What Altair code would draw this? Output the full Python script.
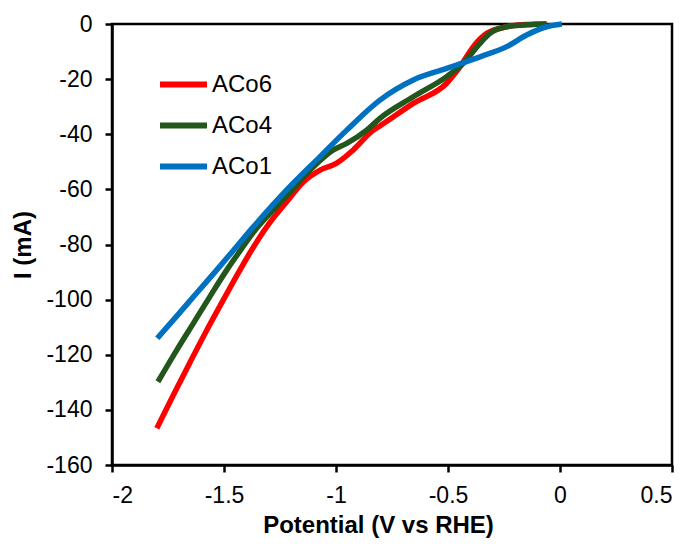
import altair as alt
import pandas as pd

aco6_x = [-1.80, -1.726, -1.652, -1.577, -1.503, -1.443, -1.384, -1.295, -1.220, -1.146, -1.071, -0.997,
          -0.923, -0.833, -0.804, -0.655, -0.506, -0.446, -0.387, -0.327, -0.238, -0.149, -0.06]
aco6_y = [-146.7, -134.6, -122.8, -111.1, -100.1, -91.3, -83.0, -72.0, -64.5, -57.3, -53.0, -50.5,
          -45.7, -38.5, -37.0, -28.8, -21.5, -15.5, -8.2, -3.4, -1.0, -0.2, 0.0]

aco4_x = [-1.795, -1.711, -1.637, -1.563, -1.488, -1.429, -1.369, -1.220, -1.101, -1.012, -0.952, -0.863,
          -0.804, -0.655, -0.506, -0.432, -0.357, -0.313, -0.238, -0.104, -0.06]
aco4_y = [-129.8, -118.3, -108.6, -98.9, -89.3, -82.4, -75.6, -62.3, -51.8, -45.7, -43.3, -38.5,
          -34.2, -26.4, -19.1, -14.3, -7.0, -3.4, -1.0, -0.1, 0.0]

aco1_x = [-1.798, -1.711, -1.622, -1.533, -1.466, -1.369, -1.220, -1.071, -0.952, -0.804, -0.655,
          -0.506, -0.357, -0.238, -0.149, -0.060, 0.008]
aco1_y = [-114.0, -106.0, -97.6, -89.3, -82.9, -73.6, -60.2, -48.1, -38.5, -27.6, -20.3,
          -16.1, -11.9, -8.2, -4.0, -1.0, 0.0]

series = ["ACo6", "ACo4", "ACo1"]
colors = ["#FF0000", "#23561C", "#0070C0"]
x_ticks = [-2, -1.5, -1, -0.5, 0, 0.5]
y_ticks = [0, -20, -40, -60, -80, -100, -120, -140, -160]

rows = []
for name, xs, ys in [("ACo6", aco6_x, aco6_y), ("ACo4", aco4_x, aco4_y), ("ACo1", aco1_x, aco1_y)]:
    for i, (a, b) in enumerate(zip(xs, ys)):
        rows.append({"series": name, "x": a, "y": b, "order": i})
df = pd.DataFrame(rows)

FONT = "Liberation Sans"

chart = alt.Chart(df).mark_line(strokeWidth=5.5, interpolate="monotone").encode(
    x=alt.X("x:Q",
            scale=alt.Scale(domain=[-2, 0.5], nice=False, zero=False),
            axis=alt.Axis(title="Potential (V vs RHE)", values=x_ticks,
                          labelExpr="datum.value + ''", labelPadding=12,
                          titlePadding=6, titleX=266)),
    y=alt.Y("y:Q",
            scale=alt.Scale(domain=[-160, 0], nice=False, zero=False),
            axis=alt.Axis(title="I (mA)", values=y_ticks,
                          labelExpr="datum.value + ''", labelPadding=13,
                          titlePadding=10)),
    color=alt.Color("series:N",
                    scale=alt.Scale(domain=series, range=colors),
                    legend=alt.Legend(title=None, orient="none", legendX=45, legendY=34,
                                      symbolType="stroke", symbolSize=2209,
                                      symbolStrokeWidth=6, labelFontSize=24,
                                      labelFont=FONT, labelColor="black",
                                      rowPadding=2, labelOffset=2, padding=0)),
    order="order:Q",
    detail="series:N",
).properties(
    width=560, height=441,
    autosize=alt.AutoSizeParams(type="none"),
    padding={"left": 112, "top": 24, "right": 17, "bottom": 80},
).configure_view(
    stroke="black", strokeWidth=2.5
).configure_axis(
    grid=False, domainColor="black", domainWidth=2.5,
    tickColor="black", tickWidth=2.5, tickSize=7,
    labelFont=FONT, labelFontSize=23, labelColor="black",
    titleFont=FONT, titleFontSize=24, titleFontWeight="bold", titleColor="black",
)

chart.save("out.html", embed_options={"renderer": "svg", "actions": False})
